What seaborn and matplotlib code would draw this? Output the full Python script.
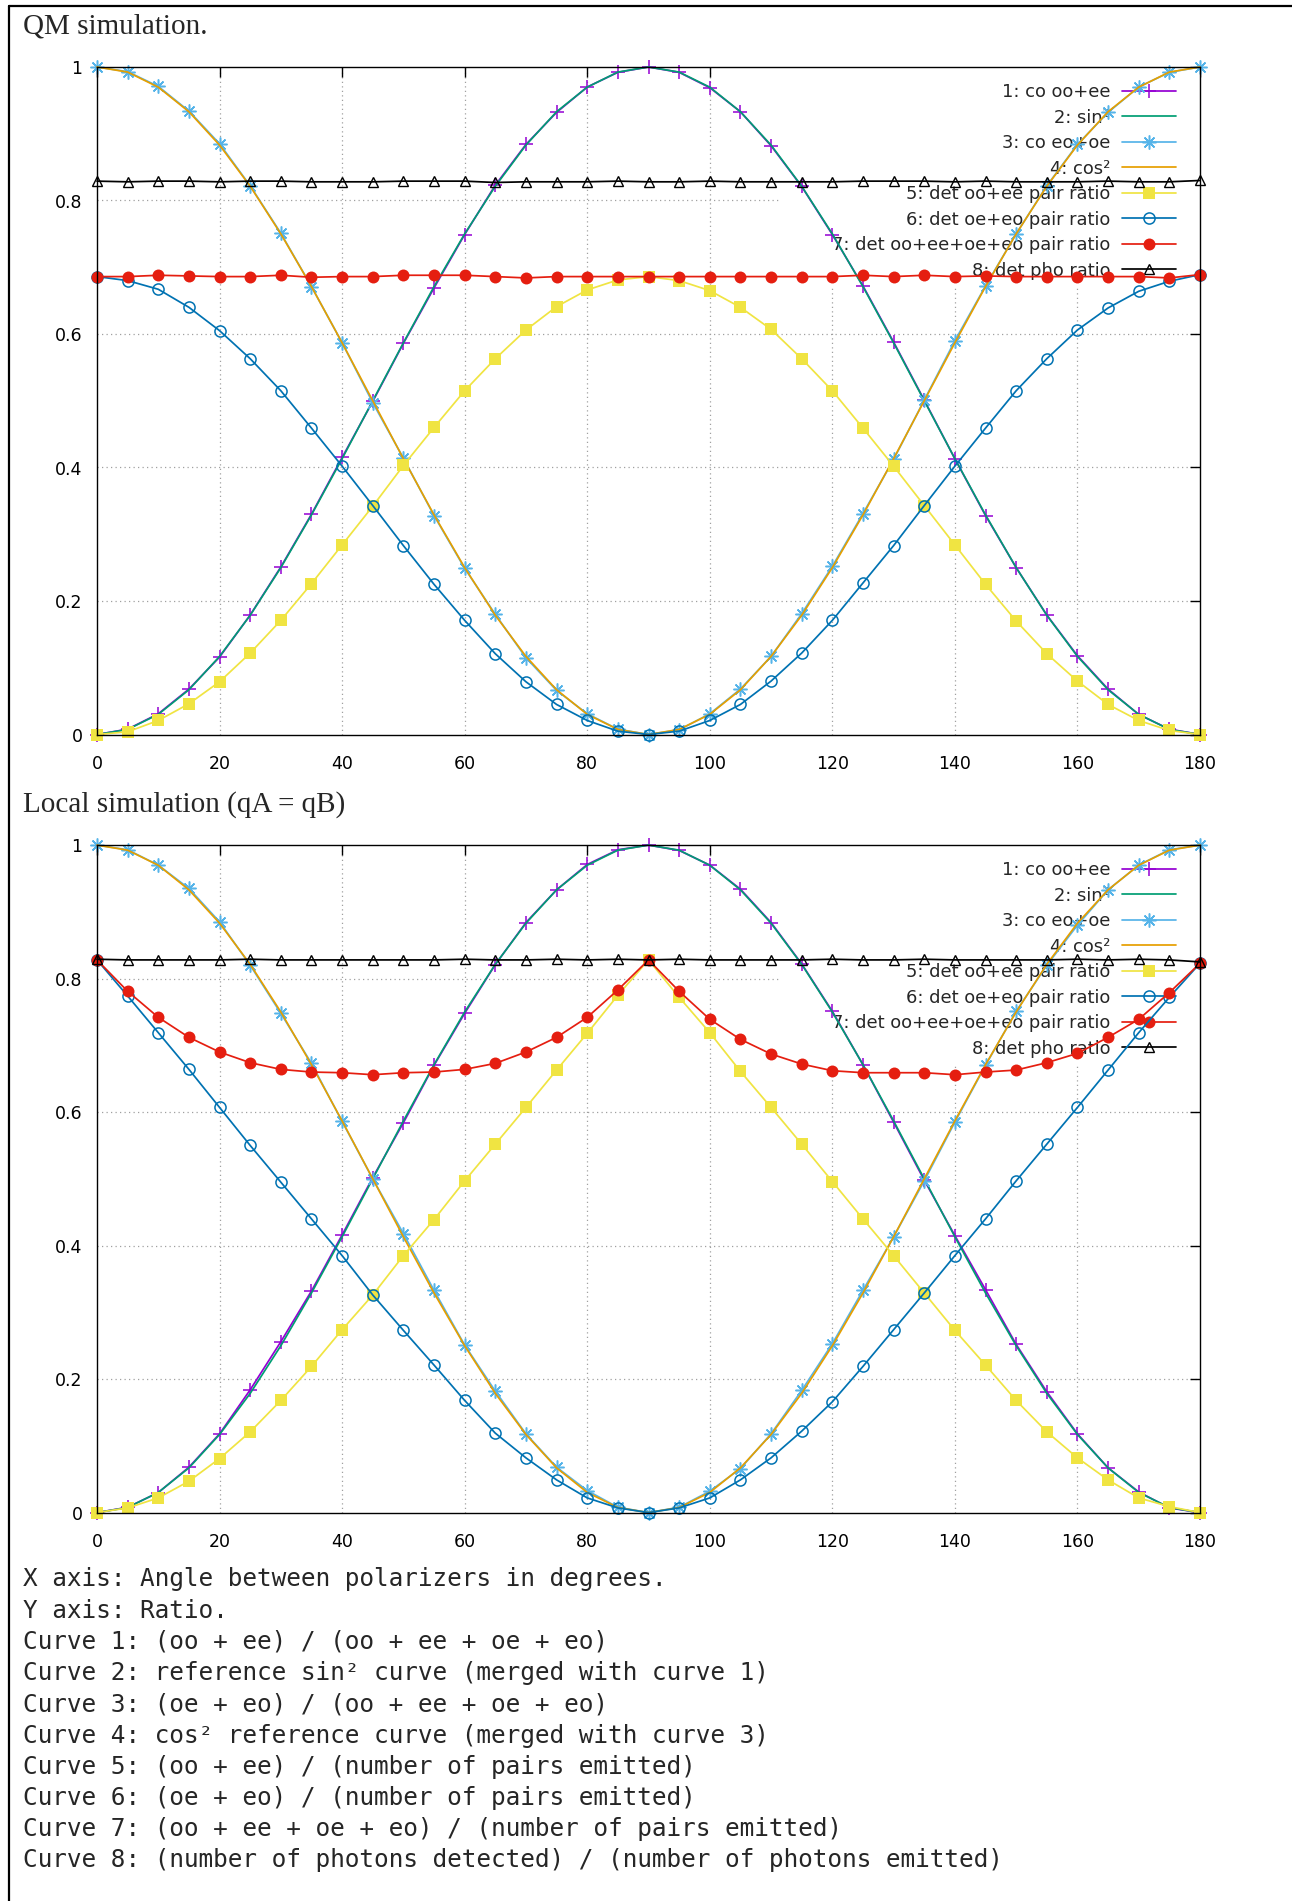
import matplotlib
matplotlib.use("Agg")
import matplotlib.pyplot as plt
import seaborn as sns
from matplotlib.lines import Line2D
from matplotlib.patches import Rectangle

# ---------------- data ----------------
angles = [0, 5, 10, 15, 20, 25, 30, 35, 40, 45, 50, 55, 60, 65, 70, 75, 80, 85, 90,
          95, 100, 105, 110, 115, 120, 125, 130, 135, 140, 145, 150, 155, 160, 165, 170, 175, 180]

sin2_ref = [0.0000, 0.0076, 0.0302, 0.0670, 0.1170, 0.1786, 0.2500, 0.3290, 0.4132, 0.5000,
            0.5868, 0.6710, 0.7500, 0.8214, 0.8830, 0.9330, 0.9698, 0.9924, 1.0000,
            0.9924, 0.9698, 0.9330, 0.8830, 0.8214, 0.7500, 0.6710, 0.5868, 0.5000,
            0.4132, 0.3290, 0.2500, 0.1786, 0.1170, 0.0670, 0.0302, 0.0076, 0.0000]
cos2_ref = [1.0000, 0.9924, 0.9698, 0.9330, 0.8830, 0.8214, 0.7500, 0.6710, 0.5868, 0.5000,
            0.4132, 0.3290, 0.2500, 0.1786, 0.1170, 0.0670, 0.0302, 0.0076, 0.0000,
            0.0076, 0.0302, 0.0670, 0.1170, 0.1786, 0.2500, 0.3290, 0.4132, 0.5000,
            0.5868, 0.6710, 0.7500, 0.8214, 0.8830, 0.9330, 0.9698, 0.9924, 1.0000]

# QM simulation
qm_co_ooee = [0.000, 0.008, 0.031, 0.068, 0.116, 0.179, 0.251, 0.330, 0.415, 0.499,
              0.586, 0.669, 0.749, 0.823, 0.884, 0.932, 0.970, 0.992, 1.000,
              0.992, 0.969, 0.933, 0.882, 0.821, 0.749, 0.672, 0.588, 0.501,
              0.413, 0.328, 0.250, 0.179, 0.118, 0.068, 0.030, 0.008, 0.000]
qm_co_eooe = [1.000, 0.993, 0.971, 0.934, 0.885, 0.822, 0.751, 0.671, 0.587, 0.497,
              0.414, 0.328, 0.249, 0.180, 0.115, 0.066, 0.031, 0.008, 0.000,
              0.007, 0.031, 0.068, 0.117, 0.181, 0.252, 0.331, 0.412, 0.501,
              0.590, 0.672, 0.750, 0.822, 0.884, 0.932, 0.970, 0.992, 1.000]
qm_det_ooee = [0.000, 0.004, 0.021, 0.046, 0.079, 0.122, 0.171, 0.226, 0.284, 0.342,
               0.403, 0.460, 0.515, 0.563, 0.606, 0.641, 0.666, 0.681, 0.686,
               0.680, 0.665, 0.640, 0.607, 0.563, 0.515, 0.459, 0.402, 0.343,
               0.284, 0.225, 0.170, 0.121, 0.080, 0.045, 0.021, 0.006, 0.000]
qm_det_oeeo = [0.686, 0.680, 0.667, 0.640, 0.605, 0.563, 0.515, 0.459, 0.402, 0.343,
               0.283, 0.225, 0.171, 0.121, 0.079, 0.045, 0.021, 0.005, 0.000,
               0.005, 0.021, 0.045, 0.080, 0.122, 0.171, 0.227, 0.283, 0.343,
               0.402, 0.459, 0.515, 0.563, 0.606, 0.639, 0.664, 0.679, 0.689]
qm_det_all = [0.686, 0.686, 0.688, 0.687, 0.686, 0.686, 0.688, 0.685, 0.686, 0.686,
              0.688, 0.688, 0.688, 0.686, 0.684, 0.686, 0.686, 0.686, 0.686,
              0.686, 0.686, 0.686, 0.686, 0.686, 0.686, 0.688, 0.686, 0.688,
              0.686, 0.687, 0.686, 0.686, 0.686, 0.686, 0.686, 0.684, 0.689]
qm_det_pho = [0.829, 0.828, 0.829, 0.829, 0.828, 0.829, 0.829, 0.828, 0.828, 0.828,
              0.829, 0.829, 0.829, 0.827, 0.828, 0.828, 0.828, 0.829, 0.828,
              0.828, 0.829, 0.828, 0.828, 0.828, 0.828, 0.829, 0.829, 0.829,
              0.828, 0.829, 0.828, 0.828, 0.828, 0.829, 0.828, 0.828, 0.830]

# Local simulation
lo_co_ooee = [0.000, 0.008, 0.030, 0.068, 0.118, 0.184, 0.256, 0.332, 0.416, 0.502,
              0.584, 0.670, 0.748, 0.821, 0.884, 0.933, 0.971, 0.993, 1.000,
              0.992, 0.970, 0.934, 0.884, 0.822, 0.751, 0.671, 0.585, 0.498,
              0.415, 0.334, 0.252, 0.181, 0.118, 0.067, 0.031, 0.007, 0.000]
lo_co_eooe = [1.000, 0.993, 0.970, 0.935, 0.885, 0.820, 0.748, 0.673, 0.586, 0.500,
              0.418, 0.333, 0.251, 0.182, 0.118, 0.068, 0.033, 0.008, 0.000,
              0.008, 0.032, 0.066, 0.118, 0.183, 0.253, 0.333, 0.413, 0.497,
              0.585, 0.670, 0.751, 0.820, 0.880, 0.933, 0.970, 0.993, 1.000]
lo_det_ooee = [0.000, 0.007, 0.022, 0.047, 0.081, 0.121, 0.168, 0.219, 0.274, 0.326,
               0.385, 0.439, 0.497, 0.552, 0.607, 0.663, 0.718, 0.775, 0.828,
               0.772, 0.719, 0.661, 0.607, 0.552, 0.496, 0.440, 0.385, 0.329,
               0.273, 0.221, 0.168, 0.121, 0.082, 0.049, 0.022, 0.009, 0.000]
lo_det_oeeo = [0.828, 0.774, 0.719, 0.664, 0.607, 0.550, 0.495, 0.440, 0.385, 0.326,
               0.273, 0.221, 0.168, 0.119, 0.082, 0.049, 0.022, 0.007, 0.000,
               0.007, 0.022, 0.049, 0.082, 0.122, 0.166, 0.219, 0.274, 0.329,
               0.385, 0.440, 0.497, 0.552, 0.607, 0.663, 0.719, 0.772, 0.823]
lo_det_all = [0.828, 0.781, 0.742, 0.712, 0.690, 0.674, 0.664, 0.660, 0.659, 0.656,
              0.659, 0.660, 0.664, 0.673, 0.690, 0.712, 0.742, 0.783, 0.828,
              0.781, 0.739, 0.709, 0.687, 0.672, 0.662, 0.659, 0.659, 0.659,
              0.656, 0.660, 0.663, 0.674, 0.688, 0.712, 0.739, 0.779, 0.823]
lo_det_pho = [0.829, 0.828, 0.828, 0.828, 0.828, 0.829, 0.828, 0.828, 0.828, 0.828,
              0.828, 0.828, 0.829, 0.828, 0.828, 0.829, 0.828, 0.829, 0.828,
              0.829, 0.828, 0.828, 0.828, 0.828, 0.829, 0.828, 0.828, 0.829,
              0.828, 0.828, 0.828, 0.828, 0.829, 0.828, 0.829, 0.828, 0.825]

legend_labels = ["1: co oo+ee", "2: sin\u00b2", "3: co eo+oe", "4: cos\u00b2",
                 "5: det oo+ee pair ratio", "6: det oe+eo pair ratio",
                 "7: det oo+ee+oe+eo pair ratio", "8: det pho ratio"]
x_ticks = [0, 20, 40, 60, 80, 100, 120, 140, 160, 180]
x_tick_labels = ["0", "20", "40", "60", "80", "100", "120", "140", "160", "180"]
y_ticks = [0, 0.2, 0.4, 0.6, 0.8, 1.0]
y_tick_labels = ["0", "0.2", "0.4", "0.6", "0.8", "1"]

panel_titles = ["QM simulation.", "Local simulation (qA = qB)"]
notes = [
    "X axis: Angle between polarizers in degrees.",
    "Y axis: Ratio.",
    "Curve 1: (oo + ee) / (oo + ee + oe + eo)",
    "Curve 2: reference sin\u00b2 curve (merged with curve 1)",
    "Curve 3: (oe + eo) / (oo + ee + oe + eo)",
    "Curve 4: cos\u00b2 reference curve (merged with curve 3)",
    "Curve 5: (oo + ee) / (number of pairs emitted)",
    "Curve 6: (oe + eo) / (number of pairs emitted)",
    "Curve 7: (oo + ee + oe + eo) / (number of pairs emitted)",
    "Curve 8: (number of photons detected) / (number of photons emitted)",
]

# ---------------- styling ----------------
colors = ["#9400D3", "#009E73", "#56B4E9", "#E69F00", "#F0E442", "#0072B2", "#E51E10", "#000000"]
styles = [
    dict(marker="+", markersize=10, mfc="none", mew=1.1),
    dict(marker=None),
    dict(marker=(8, 2, 0), markersize=10, mfc="none", mew=1.1),
    dict(marker=None),
    dict(marker="s", markersize=8.5, mfc=colors[4], mew=0.0),
    dict(marker="o", markersize=8.0, mfc="none", mew=1.1),
    dict(marker="o", markersize=8.6, mfc=colors[6], mew=0.0),
    dict(marker="^", markersize=7.5, mfc="none", mew=1.0),
]

sns.set_style("white")
plt.rcParams["font.family"] = ["DejaVu Sans"]

W, H = 1292, 1901
fig = plt.figure(figsize=(W / 100, H / 100), dpi=100)
fig.patch.set_facecolor("white")

ax_top = fig.add_axes([97 / W, 1 - 734.5 / H, 1103 / W, 667.5 / H])
ax_bot = fig.add_axes([97 / W, 1 - 1512.6 / H, 1103 / W, 667.5 / H])


def draw_panel(ax, series):
    ax.set_xlim(0, 180)
    ax.set_ylim(0, 1)
    ax.grid(False)
    # dotted grid (behind everything)
    for xv in x_ticks[1:-1]:
        ax.axvline(xv, color="#a0a0a0", lw=0.9, ls=(0, (1, 2.6)), zorder=0.4)
    for yv in y_ticks[1:-1]:
        ax.axhline(yv, color="#a0a0a0", lw=0.9, ls=(0, (1, 2.6)), zorder=0.4)
    # key area hides the grid (gnuplot behaviour)
    ax.add_patch(Rectangle((111.5, 0.672), 68.5, 0.328, transform=ax.transData,
                           facecolor="white", edgecolor="none", zorder=1))
    for i, (vals, col, st, lab) in enumerate(zip(series, colors, styles, legend_labels)):
        kw = dict(color=col, linewidth=1.25, label=lab, clip_on=False, zorder=2 + i * 0.01)
        if st.get("marker") is not None:
            kw.update(marker=st["marker"], markersize=st["markersize"],
                      markerfacecolor=st["mfc"], markeredgecolor=col,
                      markeredgewidth=st["mew"])
        sns.lineplot(x=angles, y=vals, ax=ax, estimator=None, **kw)
    ax.set_xticks(x_ticks)
    ax.set_xticklabels(x_tick_labels)
    ax.set_yticks(y_ticks)
    ax.set_yticklabels(y_tick_labels)
    ax.set_xlabel("")
    ax.set_ylabel("")
    ax.tick_params(direction="in", length=7.5, width=1.0, top=True, right=True,
                   labelsize=12.5, colors="black")
    ax.tick_params(axis="x", pad=14.5)
    ax.tick_params(axis="y", pad=10.5)
    for sp in ax.spines.values():
        sp.set_visible(True)
        sp.set_color("black")
        sp.set_linewidth(1.0)
        sp.set_zorder(3)
    handles, labels = ax.get_legend_handles_labels()
    leg = ax.legend(handles, labels, loc="upper right", bbox_to_anchor=(0.978, 0.976),
                    markerfirst=False, frameon=False, borderpad=0, borderaxespad=0,
                    fontsize=12.86, handlelength=3.0, handletextpad=0.67,
                    labelspacing=0.42, numpoints=1)
    leg.set_zorder(1.5)


draw_panel(ax_top, [qm_co_ooee, sin2_ref, qm_co_eooe, cos2_ref,
                    qm_det_ooee, qm_det_oeeo, qm_det_all, qm_det_pho])
draw_panel(ax_bot, [lo_co_ooee, sin2_ref, lo_co_eooe, cos2_ref,
                    lo_det_ooee, lo_det_oeeo, lo_det_all, lo_det_pho])

# panel titles (serif)
fig.text(23 / W, 1 - 34 / H, panel_titles[0], family=["Liberation Serif"], fontsize=21,
         va="baseline", ha="left")
fig.text(23 / W, 1 - 812 / H, panel_titles[1], family=["Liberation Serif"], fontsize=21,
         va="baseline", ha="left")

# notes (monospace)
for i, line in enumerate(notes):
    fig.text(23 / W, 1 - (1579.3 + i * 31.24) / H, line, family=["DejaVu Sans Mono"],
             fontsize=17.57, va="center", ha="left")

# outer frame (top and left only)
fig.add_artist(Line2D([9 / W, 1.0], [1 - 6 / H, 1 - 6 / H], color="black", lw=1.6,
                      transform=fig.transFigure))
fig.add_artist(Line2D([9 / W, 9 / W], [0.0, 1 - 6 / H], color="black", lw=1.6,
                      transform=fig.transFigure))

fig.savefig("out.png", dpi=100, facecolor="white")
